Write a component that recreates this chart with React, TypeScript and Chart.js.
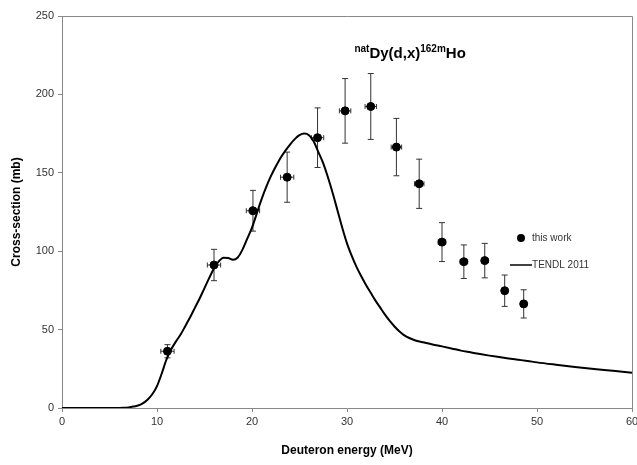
import React, { useEffect, useRef } from "react";
import { Chart, registerables } from "chart.js";

Chart.register(...registerables);

// Experimental data ("this work")
const expEnergy = [11.1, 16.0, 20.1, 23.7, 26.9, 29.8, 32.5, 35.2, 37.6, 40.0, 42.3, 44.5, 46.6, 48.6];
const expEnergyErr = [0.7, 0.7, 0.7, 0.7, 0.65, 0.6, 0.6, 0.55, 0.5, 0.4, 0.4, 0.35, 0.3, 0.3];
const expCross = [36.2, 91.2, 125.8, 147.2, 172.4, 189.5, 192.3, 166.4, 143.0, 105.8, 93.3, 94.0, 74.8, 66.4];
const expCrossErr = [4.2, 10, 13, 16, 19, 20.6, 21, 18.3, 15.7, 12.4, 10.7, 11, 10, 9];

// TENDL 2011 curve
const tendlEnergy = [
  0, 1, 2, 3, 4, 5, 6, 6.5, 7, 7.5, 8, 8.5, 9, 9.5, 10, 10.5, 11, 11.5, 12, 12.5, 13, 13.5, 14, 14.5,
  15, 15.5, 16, 16.5, 17, 17.5, 18, 18.5, 19, 19.5, 20, 20.5, 21, 21.5, 22, 22.5, 23, 23.5, 24, 24.5,
  25, 25.5, 26, 26.5, 27, 27.5, 28, 28.5, 29, 29.5, 30, 30.5, 31, 31.5, 32, 32.5, 33, 33.5, 34, 34.5,
  35, 35.5, 36, 36.5, 37, 37.5, 38, 39, 40, 41, 42, 43, 44, 45, 46, 47, 48, 49, 50, 52, 54, 56, 58, 60,
];
const tendlCross = [
  0, 0, 0, 0, 0, 0, 0, 0.1, 0.4, 0.9, 1.6, 3, 5.3, 8.8, 14, 22, 31, 37.5, 42.5, 47, 52.5, 58, 64, 70,
  76.5, 83, 89, 93.5, 95.8, 95.6, 94.6, 96, 101, 108, 115, 124, 133, 141, 148, 154, 159.5, 164, 168, 171.5,
  174, 175, 174, 170, 163, 156, 147, 137, 126, 115, 105, 97, 90, 84, 78.5, 73.5, 68.5, 64, 59.5, 55.5,
  52, 49, 46.5, 44.8, 43.5, 42.6, 41.9, 40.5, 39.3, 38, 36.6, 35.5, 34.4, 33.4, 32.5, 31.6, 30.8, 30, 29.1, 27.6, 26.2, 24.9, 23.7, 22.5,
];

const xTicks = [0, 10, 20, 30, 40, 50, 60];
const yTicks = [0, 50, 100, 150, 200, 250];

const FONT = '"Liberation Sans", Arial, Helvetica, sans-serif';

const errorBarPlugin = {
  id: "errorBars",
  beforeDatasetsDraw(chart: any) {
    const ctx = chart.ctx;
    const xs = chart.scales.x;
    const ys = chart.scales.y;
    ctx.save();
    ctx.strokeStyle = "#333";
    ctx.lineWidth = 1;
    for (let i = 0; i < expEnergy.length; i++) {
      const px = xs.getPixelForValue(expEnergy[i]);
      const py = ys.getPixelForValue(expCross[i]);
      const top = ys.getPixelForValue(expCross[i] + expCrossErr[i]);
      const bot = ys.getPixelForValue(expCross[i] - expCrossErr[i]);
      const left = xs.getPixelForValue(expEnergy[i] - expEnergyErr[i]);
      const right = xs.getPixelForValue(expEnergy[i] + expEnergyErr[i]);
      ctx.beginPath();
      ctx.moveTo(px, top);
      ctx.lineTo(px, bot);
      ctx.moveTo(px - 3, top);
      ctx.lineTo(px + 3, top);
      ctx.moveTo(px - 3, bot);
      ctx.lineTo(px + 3, bot);
      ctx.moveTo(left, py);
      ctx.lineTo(right, py);
      ctx.moveTo(left, py - 2.5);
      ctx.lineTo(left, py + 2.5);
      ctx.moveTo(right, py - 2.5);
      ctx.lineTo(right, py + 2.5);
      ctx.stroke();
    }
    ctx.restore();
  },
};

const annotationPlugin = {
  id: "annotations",
  afterDraw(chart: any) {
    const ctx = chart.ctx;
    const a = chart.chartArea;
    ctx.save();
    // frame (top and right)
    ctx.strokeStyle = "#888";
    ctx.lineWidth = 1;
    ctx.beginPath();
    ctx.moveTo(a.left, a.top + 0.5);
    ctx.lineTo(a.right + 0.5, a.top + 0.5);
    ctx.lineTo(a.right + 0.5, a.bottom);
    ctx.stroke();

    // title  natDy(d,x)162mHo
    ctx.fillStyle = "#000";
    ctx.textBaseline = "alphabetic";
    ctx.textAlign = "left";
    const big = `bold 15px ${FONT}`;
    const small = `bold 10px ${FONT}`;
    let x = a.left + (a.right - a.left) * 0.513;
    const base = a.top + 42;
    const parts: [string, boolean][] = [
      ["nat", true],
      ["Dy(d,x)", false],
      ["162m", true],
      ["Ho", false],
    ];
    for (const [t, sup] of parts) {
      ctx.font = sup ? small : big;
      ctx.fillText(t, x, sup ? base - 6 : base);
      x += ctx.measureText(t).width;
    }

    // legend
    const lx = a.left + (a.right - a.left) * 0.786;
    const ly1 = a.top + 222;
    const ly2 = a.top + 249;
    ctx.fillStyle = "#000";
    ctx.beginPath();
    ctx.arc(lx + 11, ly1, 4, 0, Math.PI * 2);
    ctx.fill();
    ctx.strokeStyle = "#000";
    ctx.lineWidth = 1.5;
    ctx.beginPath();
    ctx.moveTo(lx, ly2);
    ctx.lineTo(lx + 22, ly2);
    ctx.stroke();
    ctx.font = `10px ${FONT}`;
    ctx.fillStyle = "#333";
    ctx.textBaseline = "middle";
    ctx.fillText("this work", lx + 22, ly1);
    ctx.fillText("TENDL 2011", lx + 22, ly2);
    ctx.restore();
  },
};

export default function App() {
  const canvasRef = useRef<HTMLCanvasElement | null>(null);

  useEffect(() => {
    if (!canvasRef.current) return;
    const chart = new Chart(canvasRef.current, {
      type: "scatter",
      data: {
        datasets: [
          {
            type: "line",
            label: "TENDL 2011",
            data: tendlEnergy.map((e, i) => ({ x: e, y: tendlCross[i] })),
            borderColor: "#000",
            borderWidth: 2,
            pointRadius: 0,
            cubicInterpolationMode: "monotone",
            fill: false,
          } as any,
          {
            type: "scatter",
            label: "this work",
            data: expEnergy.map((e, i) => ({ x: e, y: expCross[i] })),
            backgroundColor: "#000",
            borderColor: "#000",
            pointRadius: 4,
            pointHoverRadius: 4,
          },
        ],
      },
      options: {
        responsive: false,
        animation: false,
        events: [],
        layout: { padding: { top: 16, right: 5, left: 0, bottom: 0 } },
        plugins: {
          legend: { display: false },
          tooltip: { enabled: false },
          title: { display: false },
        },
        scales: {
          x: {
            type: "linear",
            min: 0,
            max: 60,
            afterBuildTicks: (s: any) => {
              s.ticks = xTicks.map((v) => ({ value: v }));
            },
            afterFit: (s: any) => {
              s.height = 57;
              s.paddingLeft = 0;
              s.paddingRight = 0;
            },
            ticks: {
              font: { family: FONT, size: 11 },
              color: "#333",
              padding: 3,
              maxRotation: 0,
            },
            grid: {
              display: true,
              drawOnChartArea: false,
              drawTicks: true,
              tickLength: 4,
              color: "#888",
            },
            border: { display: true, color: "#888" },
            title: {
              display: true,
              text: "Deuteron energy (MeV)",
              font: { family: FONT, size: 12, weight: "bold" },
              color: "#000",
              padding: { top: 0, bottom: 7 },
            },
          },
          y: {
            type: "linear",
            min: 0,
            max: 250,
            afterBuildTicks: (s: any) => {
              s.ticks = yTicks.map((v) => ({ value: v }));
            },
            afterFit: (s: any) => {
              s.width = 62;
              s.paddingTop = 0;
              s.paddingBottom = 0;
            },
            ticks: {
              font: { family: FONT, size: 11 },
              color: "#333",
              padding: 4,
            },
            grid: {
              display: true,
              drawOnChartArea: false,
              drawTicks: true,
              tickLength: 4,
              color: "#888",
            },
            border: { display: true, color: "#888" },
            title: {
              display: true,
              text: "Cross-section (mb)",
              font: { family: FONT, size: 12, weight: "bold" },
              color: "#000",
              padding: { top: 9, bottom: 0 },
            },
          },
        },
      } as any,
      plugins: [errorBarPlugin, annotationPlugin],
    });
    return () => chart.destroy();
  }, []);

  return (
    <div style={{ position: "absolute", left: 0, top: 0, width: 637, height: 465, background: "#fff" }}>
      <canvas ref={canvasRef} width={637} height={465} style={{ width: 637, height: 465 }} />
    </div>
  );
}
